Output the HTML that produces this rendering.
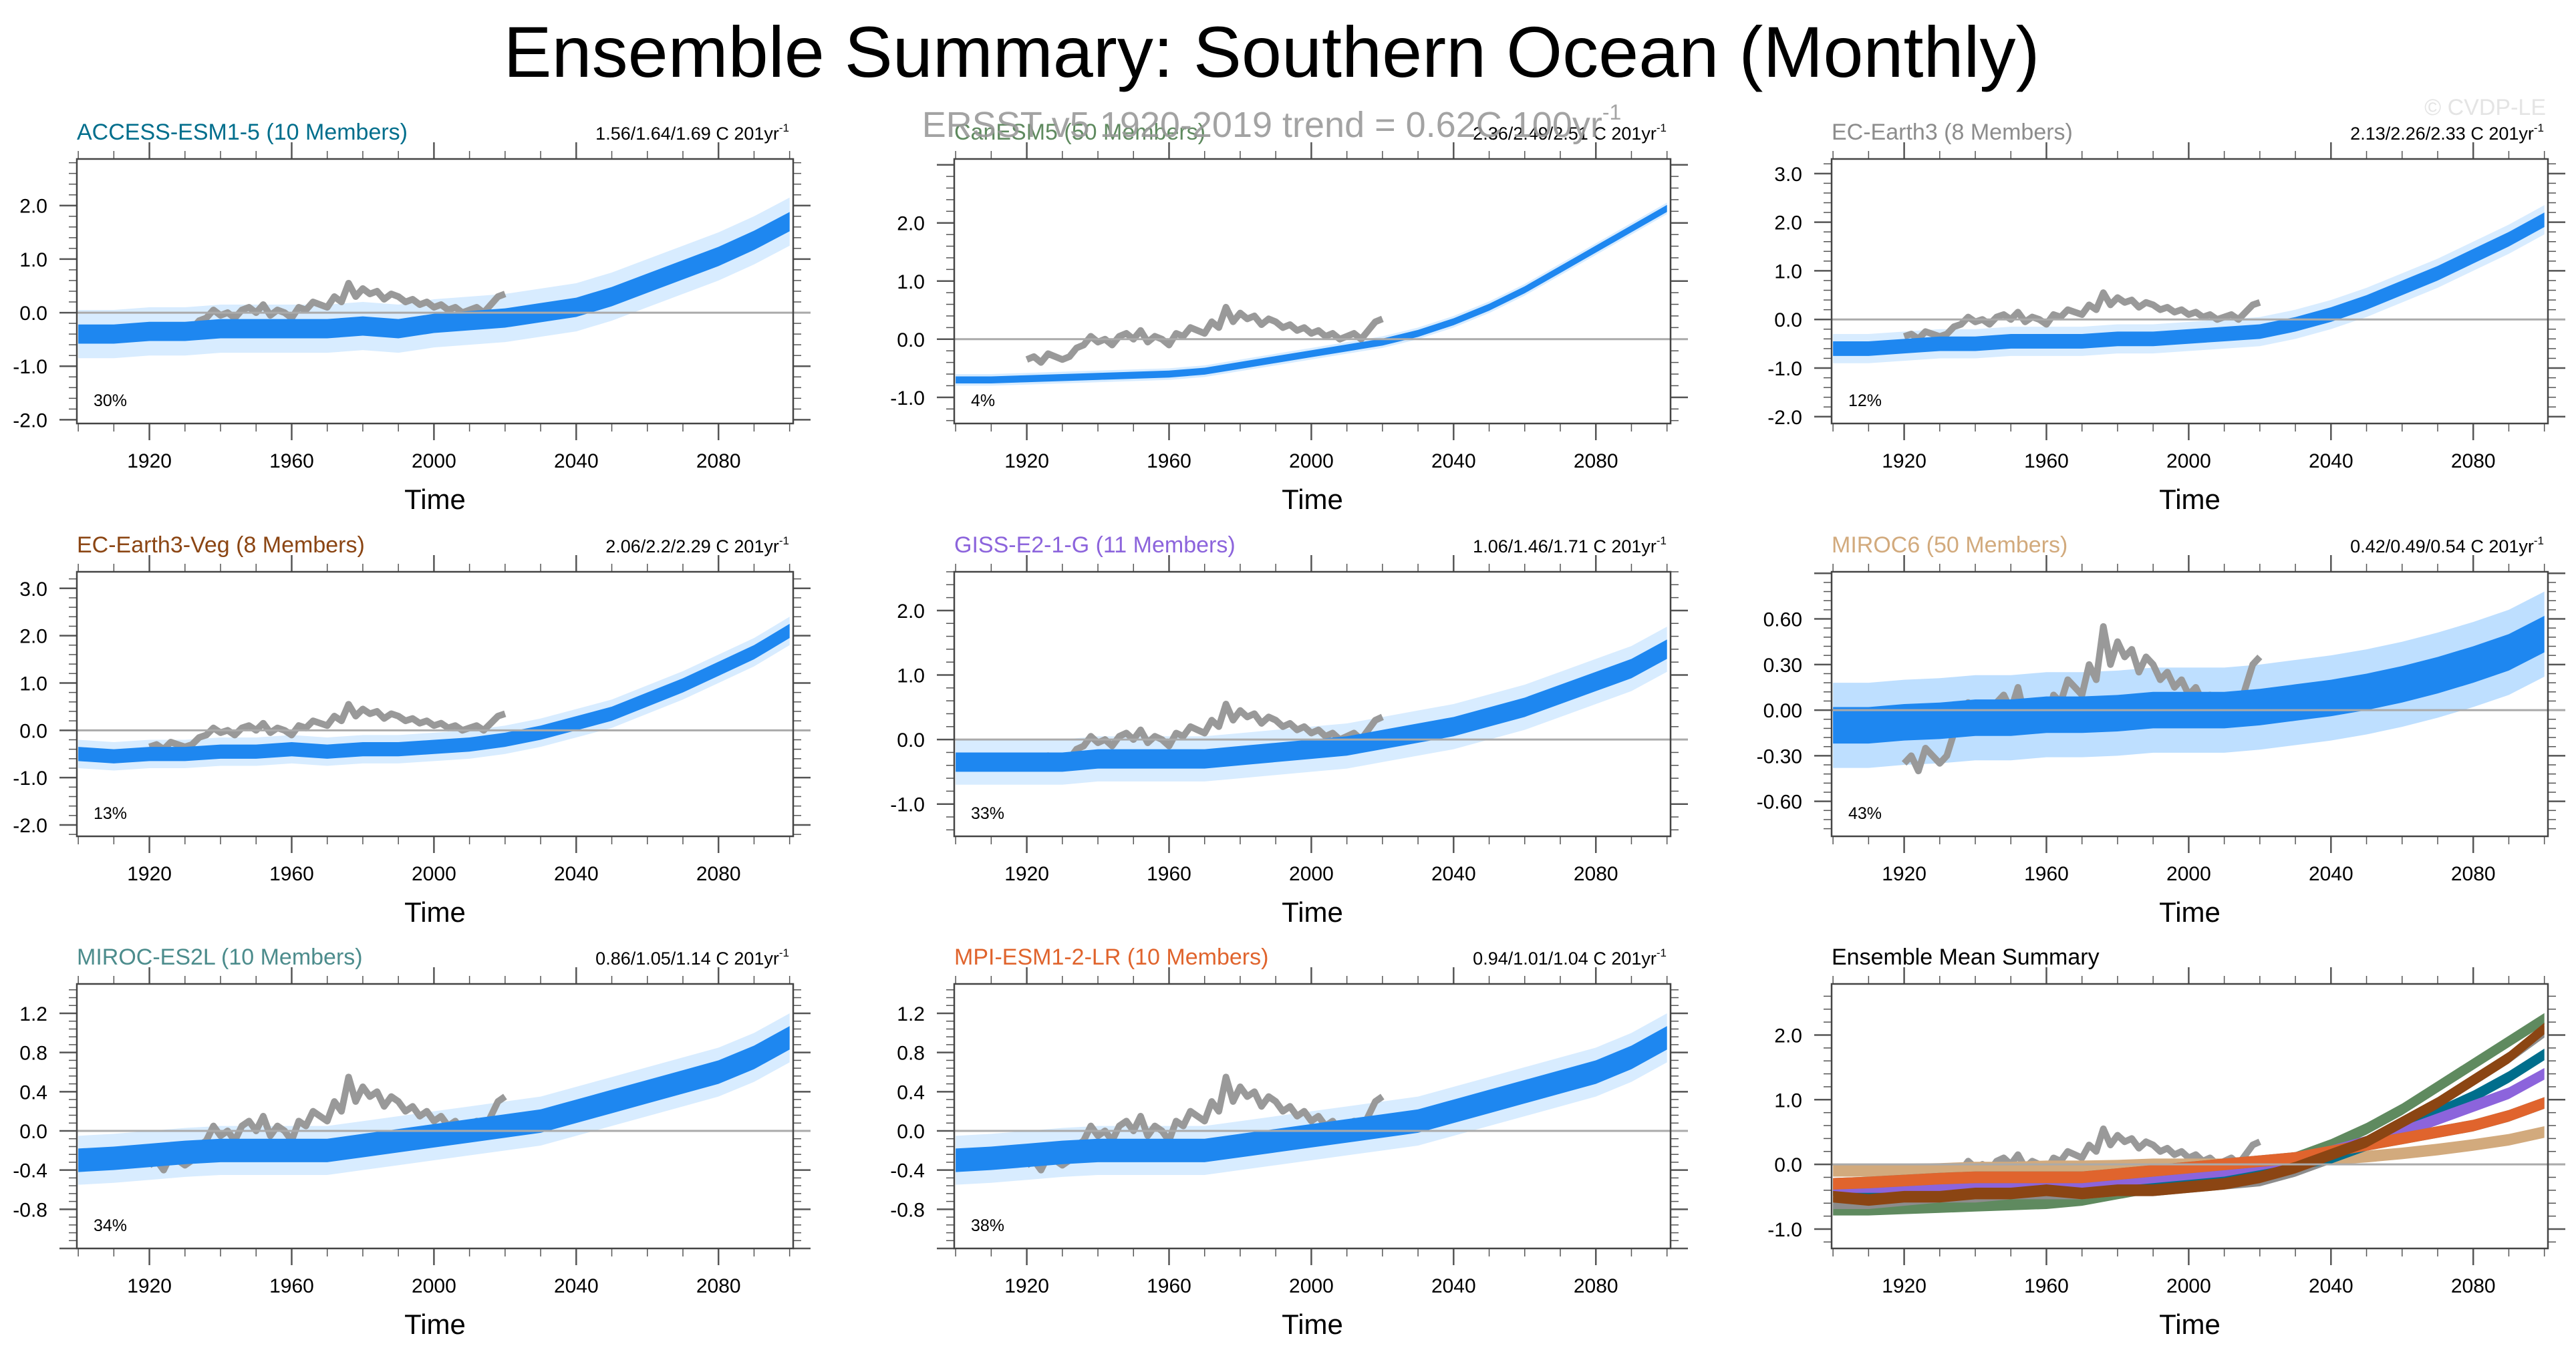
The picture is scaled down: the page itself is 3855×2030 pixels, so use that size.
<!DOCTYPE html>
<html><head><meta charset="utf-8">
<style>
html,body{margin:0;padding:0;background:#fff;}
svg{display:block;font-family:"Liberation Sans",Arial,sans-serif;}
</style></head>
<body>
<svg id="chart" width="3855" height="2030" viewBox="0 0 3855 2030" xmlns="http://www.w3.org/2000/svg">
<text x="1903" y="115" font-size="108" text-anchor="middle" fill="#000">Ensemble Summary: Southern Ocean (Monthly)</text>
<text x="3810" y="172" font-size="34" text-anchor="end" fill="#e4e4e4">© CVDP-LE</text>
<g id="panels"></g>
<text x="1903" y="205" font-size="54" text-anchor="middle" fill="#999" fill-opacity="0.9">ERSST v5 1920-2019 trend = 0.62C 100yr<tspan font-size="32" dy="-26">-1</tspan></text>
</svg>
<script>
// ---- data (10-year steps 1900..2100) ----
const years = [1900,1910,1920,1930,1940,1950,1960,1970,1980,1990,2000,2010,2020,2030,2040,2050,2060,2070,2080,2090,2100];
const accessMean = [-0.4,-0.4,-0.35,-0.35,-0.3,-0.3,-0.3,-0.3,-0.25,-0.3,-0.2,-0.15,-0.1,0.0,0.1,0.3,0.55,0.8,1.05,1.35,1.7];
const canesmMean = [-0.7,-0.7,-0.68,-0.66,-0.64,-0.62,-0.6,-0.55,-0.45,-0.35,-0.25,-0.15,-0.05,0.1,0.3,0.55,0.85,1.2,1.55,1.9,2.25];
const ecearthMean = [-0.6,-0.6,-0.55,-0.5,-0.5,-0.45,-0.45,-0.45,-0.4,-0.4,-0.35,-0.3,-0.25,-0.1,0.1,0.35,0.65,0.95,1.3,1.65,2.05];
const ecvegMean = [-0.5,-0.55,-0.5,-0.5,-0.45,-0.45,-0.4,-0.45,-0.4,-0.4,-0.35,-0.3,-0.2,-0.05,0.15,0.35,0.65,0.95,1.3,1.65,2.1];
const gissMean = [-0.35,-0.35,-0.35,-0.35,-0.3,-0.3,-0.3,-0.3,-0.25,-0.2,-0.15,-0.1,0.0,0.1,0.2,0.35,0.5,0.7,0.9,1.1,1.4];
const miroc6Mean = [-0.1,-0.1,-0.08,-0.07,-0.05,-0.05,-0.03,-0.03,-0.02,0.0,0.0,0.0,0.02,0.05,0.08,0.12,0.17,0.23,0.3,0.38,0.5];
const es2lMean = [-0.3,-0.28,-0.25,-0.22,-0.2,-0.2,-0.2,-0.2,-0.15,-0.1,-0.05,0.0,0.05,0.1,0.2,0.3,0.4,0.5,0.6,0.75,0.95];
const mpiMean = [-0.3,-0.28,-0.25,-0.22,-0.2,-0.2,-0.2,-0.2,-0.15,-0.1,-0.05,0.0,0.05,0.1,0.2,0.3,0.4,0.5,0.6,0.75,0.95];
// observations 1920..2020, 2-year steps
const obsYears = [1920,1922,1924,1926,1928,1930,1932,1934,1936,1938,1940,1942,1944,1946,1948,1950,1952,1954,1956,1958,1960,1962,1964,1966,1968,1970,1972,1974,1976,1978,1980,1982,1984,1986,1988,1990,1992,1994,1996,1998,2000,2002,2004,2006,2008,2010,2012,2014,2016,2018,2020];
const obsValues = [-0.35,-0.3,-0.4,-0.25,-0.3,-0.35,-0.3,-0.15,-0.1,0.05,-0.05,0.0,-0.1,0.05,0.1,0.0,0.15,-0.05,0.05,0.0,-0.1,0.1,0.05,0.2,0.15,0.1,0.3,0.2,0.55,0.3,0.45,0.35,0.4,0.25,0.35,0.3,0.2,0.25,0.15,0.2,0.1,0.15,0.05,0.1,0.0,0.05,0.1,0.0,0.15,0.3,0.35];
const xTickLabels = ["1920","1960","2000","2040","2080"];
const modelNames = ["ACCESS-ESM1-5 (10 Members)","CanESM5 (50 Members)","EC-Earth3 (8 Members)","EC-Earth3-Veg (8 Members)","GISS-E2-1-G (11 Members)","MIROC6 (50 Members)","MIROC-ES2L (10 Members)","MPI-ESM1-2-LR (10 Members)"];
const statLabels = ["1.56/1.64/1.69 C 201yr","2.36/2.49/2.51 C 201yr","2.13/2.26/2.33 C 201yr","2.06/2.2/2.29 C 201yr","1.06/1.46/1.71 C 201yr","0.42/0.49/0.54 C 201yr","0.86/1.05/1.14 C 201yr","0.94/1.01/1.04 C 201yr"];
const pctLabels = ["30%","4%","12%","13%","33%","43%","34%","38%"];
const innerSpread = [0.18,0.06,0.15,0.15,0.15,0.12,0.12,0.12];
const outerSpread = [0.45,0.1,0.3,0.3,0.35,0.28,0.25,0.25];
const yRanges = [[-2.07,2.87],[-1.45,3.1],[-2.14,3.3],[-2.24,3.35],[-1.5,2.6],[-0.83,0.91],[-1.2,1.5],[-1.2,1.5],[-1.3,2.79]];
const yTickVals = [[-2,-1,0,1,2],[-1,0,1,2],[-2,-1,0,1,2,3],[-2,-1,0,1,2,3],[-1,0,1,2],[-0.6,-0.3,0,0.3,0.6],[-0.8,-0.4,0,0.4,0.8,1.2],[-0.8,-0.4,0,0.4,0.8,1.2],[-1,0,1,2]];
const yTickDigits = [1,1,1,1,1,2,1,1,1];
const means = [accessMean,canesmMean,ecearthMean,ecvegMean,gissMean,miroc6Mean,es2lMean,mpiMean];
const modelColors = ["#006e8c","#5f8a5f","#8c8c8c","#8b4513","#8c64dc","#d2aa7d","#4c8c8c","#e0642d"];

const NS="http://www.w3.org/2000/svg";
const root=document.getElementById('panels');
function mk(tag,attrs,parent){const e=document.createElementNS(NS,tag);for(const k in attrs)e.setAttribute(k,attrs[k]);(parent||root).appendChild(e);return e;}
const colX=[115,1428,2741], rowY=[238,856,1473], W=1072, H=396;

function drawPanel(i){
  const L=colX[i%3], T=rowY[Math.floor(i/3)];
  const [y0,y1]=yRanges[i];
  const xs=yr=>L+(yr-1899.6)/(2101-1899.6)*W;
  const ys=v=>T+H-(v-y0)/(y1-y0)*H;
  const g=mk('g',{});
  
  
  for(let yr=1900;yr<=2100;yr+=10){
    const major=(yr-1920)%40===0; const len=major?25:12; const x=xs(yr);
    const t1=mk('line',{x1:x,x2:x,y1:T,y2:T-len,stroke:'#555','stroke-width':major?2.5:1.5},g);
     
    const t2=mk('line',{x1:x,x2:x,y1:T+H,y2:T+H+len,stroke:'#555','stroke-width':major?2.5:1.5},g);
     
  }
  const tv=yTickVals[i]; const step=tv[1]-tv[0];
  for(let k=-5;k<=tv.length*5+5;k++){
    const v=tv[0]+k*step/5; if(v<y0-1e-9||v>y1+1e-9)continue;
    const major=k%5===0; const len=major?26:12; const y=ys(v);
    const a=mk('line',{x1:L,x2:L-len,y1:y,y2:y,stroke:'#555','stroke-width':major?2.5:1.5},g);
     
    const b=mk('line',{x1:L+W,x2:L+W+len,y1:y,y2:y,stroke:'#555','stroke-width':major?2.5:1.5},g);
     
  }
  tv.forEach(v=>{
    const t=mk('text',{x:L-44,y:ys(v)+11,'font-size':30,'text-anchor':'end',fill:'#000'},g);
     
    t.textContent=v.toFixed(yTickDigits[i]);
  });
  xTickLabels.forEach(s=>{
    const t=mk('text',{x:xs(+s),y:T+H+66,'font-size':30,'text-anchor':'middle',fill:'#000'},g);
     
    t.textContent=s;
  });
  const tt=mk('text',{x:L+W/2,y:T+H+128,'font-size':42,'text-anchor':'middle',fill:'#000'},g);
   
  tt.textContent='Time';
  const cid='clip'+i;
  const cp=mk('clipPath',{id:cid},g); mk('rect',{x:L,y:T,width:W,height:H},cp);
  const pg=mk('g',{'clip-path':'url(#'+cid+')'},g);
  function band(mean,sp,fill,name,op){
    let d='M';
    years.forEach((yr,j)=>{d+=xs(yr)+','+ys(mean[j]+sp)+' L';});
    for(let j=years.length-1;j>=0;j--){d+=xs(years[j])+','+ys(mean[j]-sp)+(j?' L':' Z');}
    const p=mk('path',{d:d,fill:fill,'fill-opacity':op||1},pg);
     
    return p;
  }
  function obsLine(){
    const pts=obsYears.map((yr,j)=>xs(yr)+','+ys(obsValues[j])).join(' ');
    const p=mk('polyline',{points:pts,fill:'none',stroke:'#999','stroke-width':10,'stroke-linejoin':'round'},pg);
     
  }
  const zl=mk('line',{x1:L,x2:L+W+26,y1:ys(0),y2:ys(0),stroke:'#aaa','stroke-width':3},g);
   
  if(i<8){
    band(means[i],outerSpread[i],'#a8d4ff','member-spread-band',i===5?0.75:0.45);
    obsLine();
    band(means[i],innerSpread[i],'#1e87f0','ensemble-band');
    const t=mk('text',{x:L,y:T-29,'font-size':34,fill:modelColors[i]},g);
     
    t.textContent=modelNames[i];
    const s=mk('text',{x:L+W-6,y:T-29,'font-size':27,'text-anchor':'end',fill:'#000'},g);
     
    s.textContent=statLabels[i];
    const sup=mk('tspan',{'font-size':17,dy:-12},s); sup.textContent='-1';
    const pc=mk('text',{x:L+25,y:T+H-26,'font-size':25,fill:'#000'},g);
     
    pc.textContent=pctLabels[i];
  } else {
    obsLine();
    [1,5,2,0,4,6,7,3].forEach(m=>band(means[m],0.09,modelColors[m],'ensemble-mean-'+m));
    const t=mk('text',{x:L,y:T-29,'font-size':34,fill:'#000'},g);
     
    t.textContent='Ensemble Mean Summary';
  }
  const fr=mk('rect',{x:L,y:T,width:W,height:H,fill:'none',stroke:'#444','stroke-width':2.5},g);
   
}
for(let i=0;i<9;i++)drawPanel(i);
</script>
</body></html>
